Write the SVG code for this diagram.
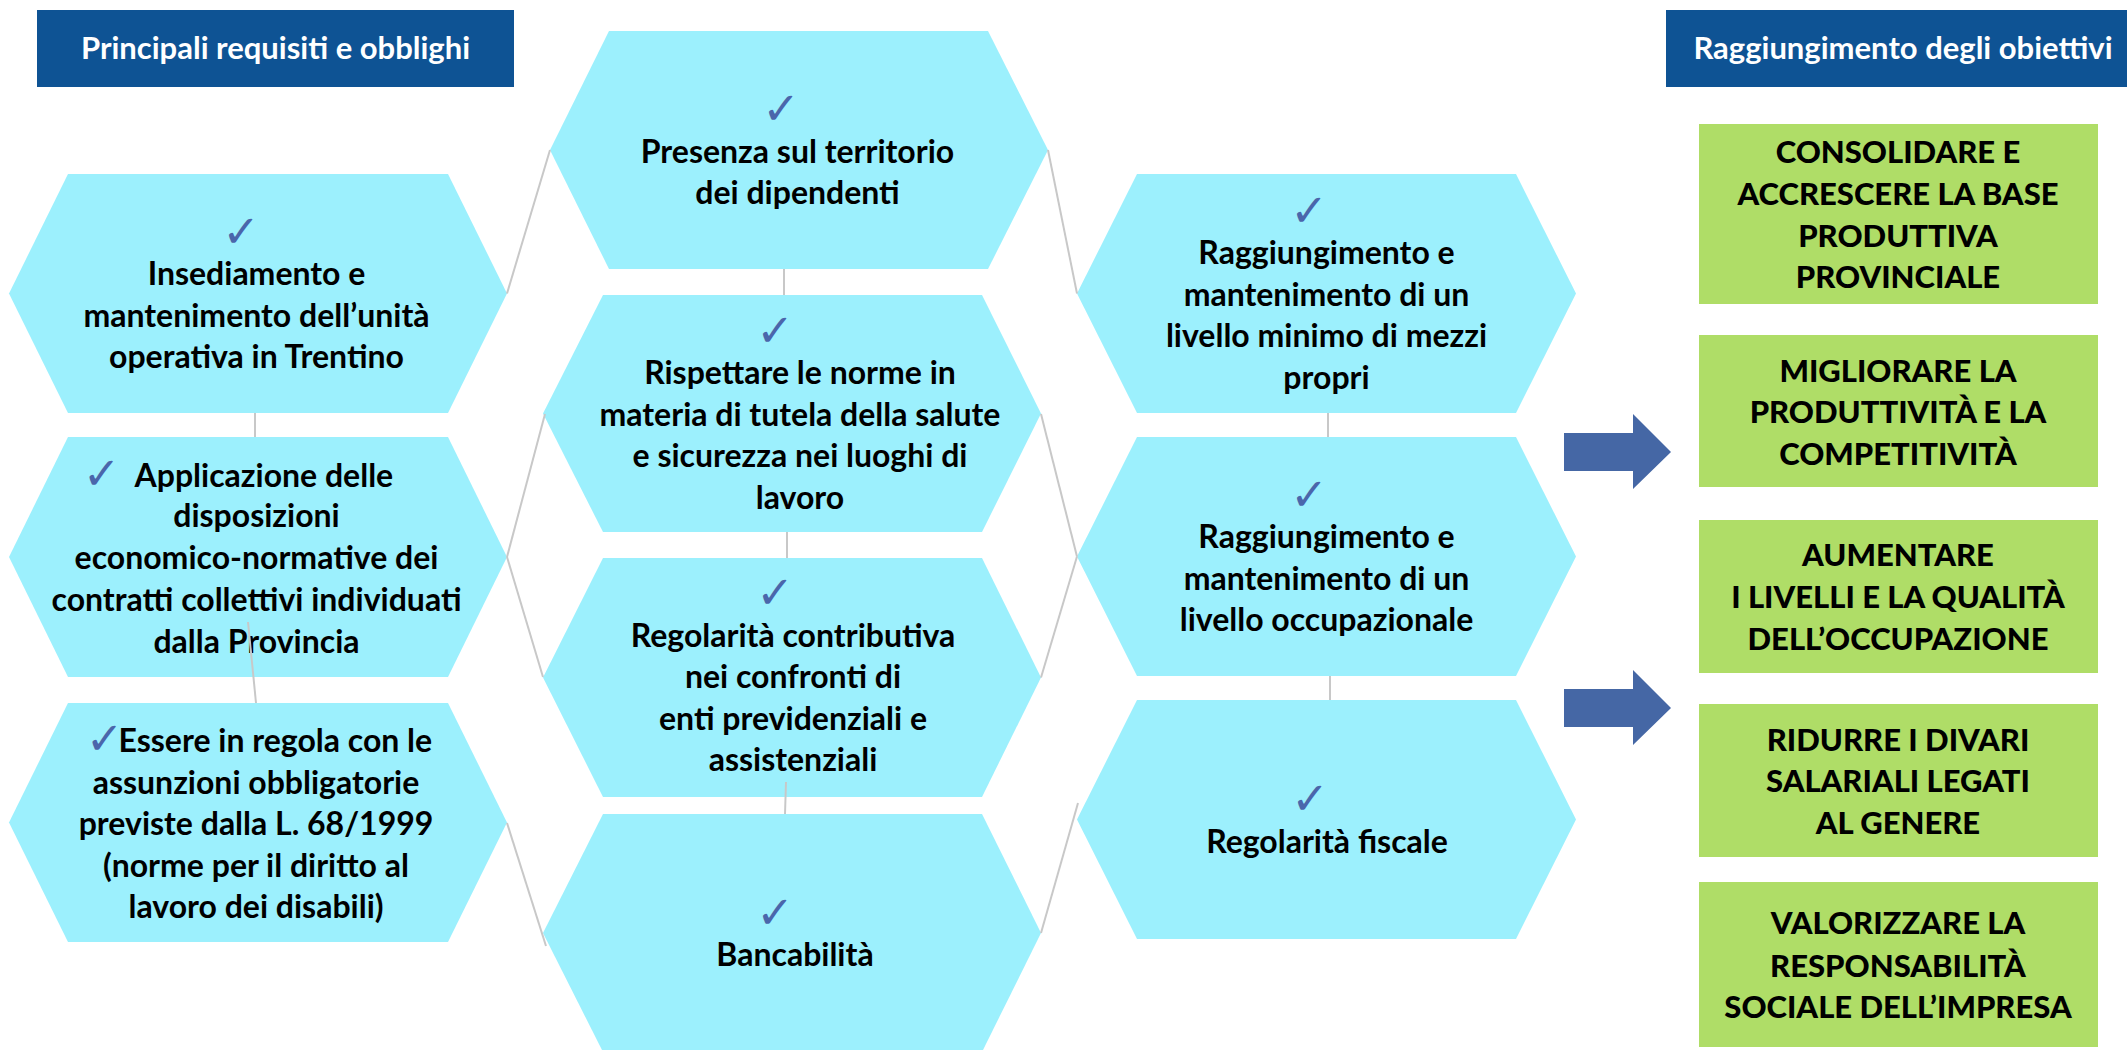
<svg xmlns="http://www.w3.org/2000/svg" width="2127" height="1050" viewBox="0 0 2127 1050">
<style>
  .hdr { fill: #0E5394; }
  .hdrt { font-family: Lato, "Liberation Sans", sans-serif; font-weight: 700; font-size: 31px; fill: #FFFFFF; text-anchor: middle; }
  .hex { fill: #9CF0FD; }
  .t { font-family: Lato, "Liberation Sans", sans-serif; font-weight: 700; font-size: 32px; fill: #000000; text-anchor: middle; }
  .ck { font-family: "DejaVu Sans", sans-serif; font-weight: 700; font-size: 45px; fill: #4A66AB; text-anchor: middle; }
  .cki { font-family: "DejaVu Sans", sans-serif; font-weight: 700; font-size: 45px; fill: #4A66AB; }
  .box { fill: #AFDD67; }
  .g { font-family: Lato, "Liberation Sans", sans-serif; font-weight: 900; font-size: 31px; fill: #000000; text-anchor: middle; }
  .con { stroke: #C8C8C8; stroke-width: 2; fill: none; }
  .arr { fill: #4567A5; }
</style>

<g id="header-left">
  <rect class="hdr" x="37" y="10" width="477" height="77"/>
  <text class="hdrt" x="275.5" y="59">Principali requisiti e obblighi</text>
</g>
<g id="header-right">
  <rect class="hdr" x="1666" y="10" width="461" height="77"/>
  <text class="hdrt" x="1903" y="59">Raggiungimento degli obiettivi</text>
</g>

<g id="node-insediamento">
  <polygon class="hex" points="68,174 448,174 507,293.5 448,413 68,413 9,293.5"/>
  <text class="ck" x="241" y="247">✓</text>
  <text class="t" x="256.5" y="285">Insediamento e</text>
  <text class="t" x="256.5" y="326.5">mantenimento dell’unità</text>
  <text class="t" x="256.5" y="368">operativa in Trentino</text>
</g>
<g id="node-applicazione">
  <polygon class="hex" points="68,437 448,437 507,557 448,677 68,677 9,557"/>
  <text class="t" x="238" y="489"><tspan class="cki">✓</tspan><tspan dx="14" dy="-2">Applicazione delle</tspan></text>
  <text class="t" x="256.5" y="527">disposizioni</text>
  <text class="t" x="256.5" y="569">economico-normative dei</text>
  <text class="t" x="256.5" y="611">contratti collettivi individuati</text>
  <text class="t" x="256.5" y="653">dalla Provincia</text>
</g>
<g id="node-assunzioni">
  <polygon class="hex" points="68,703 448,703 507,822.5 448,942 68,942 9,822.5"/>
  <text class="t" x="259" y="754"><tspan class="cki">✓</tspan><tspan dx="-5" dy="-2">Essere in regola con le</tspan></text>
  <text class="t" x="256" y="794">assunzioni obbligatorie</text>
  <text class="t" x="256" y="835">previste dalla L. 68/1999</text>
  <text class="t" x="256" y="877">(norme per il diritto al</text>
  <text class="t" x="256" y="918">lavoro dei disabili)</text>
</g>

<g id="node-presenza">
  <polygon class="hex" points="609,31 988,31 1048,150 988,269 609,269 550,150"/>
  <text class="ck" x="781" y="124">✓</text>
  <text class="t" x="797.5" y="162.5">Presenza sul territorio</text>
  <text class="t" x="797.5" y="204">dei dipendenti</text>
</g>
<g id="node-sicurezza">
  <polygon class="hex" points="603,295 982,295 1041,413.5 982,532 603,532 543,413.5"/>
  <text class="ck" x="775" y="345.5">✓</text>
  <text class="t" x="800" y="384">Rispettare le norme in</text>
  <text class="t" x="800" y="425.5">materia di tutela della salute</text>
  <text class="t" x="800" y="467">e sicurezza nei luoghi di</text>
  <text class="t" x="800" y="508.5">lavoro</text>
</g>
<g id="node-contributiva">
  <polygon class="hex" points="603,558 982,558 1041,677.5 982,797 603,797 543,677.5"/>
  <text class="ck" x="775" y="607.5">✓</text>
  <text class="t" x="793" y="646.5">Regolarità contributiva</text>
  <text class="t" x="793" y="688">nei confronti di</text>
  <text class="t" x="793" y="729.5">enti previdenziali e</text>
  <text class="t" x="793" y="771">assistenziali</text>
</g>
<g id="node-bancabilita">
  <polygon class="hex" points="603,814 982,814 1041,933 982,1052 603,1052 543,933"/>
  <text class="ck" x="775" y="927.5">✓</text>
  <text class="t" x="795" y="966">Bancabilità</text>
</g>

<g id="node-mezzi-propri">
  <polygon class="hex" points="1137,174 1516,174 1576,293.5 1516,413 1137,413 1077,293.5"/>
  <text class="ck" x="1309" y="225.5">✓</text>
  <text class="t" x="1326.5" y="264">Raggiungimento e</text>
  <text class="t" x="1326.5" y="305.5">mantenimento di un</text>
  <text class="t" x="1326.5" y="347">livello minimo di mezzi</text>
  <text class="t" x="1326.5" y="388.5">propri</text>
</g>
<g id="node-occupazionale">
  <polygon class="hex" points="1137,437 1516,437 1576,556.5 1516,676 1137,676 1077,556.5"/>
  <text class="ck" x="1309" y="509.5">✓</text>
  <text class="t" x="1326.5" y="548">Raggiungimento e</text>
  <text class="t" x="1326.5" y="589.5">mantenimento di un</text>
  <text class="t" x="1326.5" y="631">livello occupazionale</text>
</g>
<g id="node-fiscale">
  <polygon class="hex" points="1137,700 1516,700 1576,819.5 1516,939 1137,939 1077,819.5"/>
  <text class="ck" x="1310" y="814">✓</text>
  <text class="t" x="1327" y="852.5">Regolarità fiscale</text>
</g>

<g id="connectors">
  <line class="con" x1="507" y1="293.5" x2="550" y2="150"/>
  <line class="con" x1="507" y1="557" x2="545" y2="414"/>
  <line class="con" x1="507" y1="557" x2="543" y2="677"/>
  <line class="con" x1="507" y1="823" x2="546" y2="946"/>
  <line class="con" x1="255" y1="413" x2="255" y2="437"/>
  <line class="con" x1="248" y1="622" x2="256" y2="703"/>
  <line class="con" x1="784" y1="269" x2="784" y2="295"/>
  <line class="con" x1="787" y1="532" x2="787" y2="558"/>
  <line class="con" x1="786" y1="782" x2="785" y2="814"/>
  <line class="con" x1="1048" y1="150" x2="1077" y2="293.5"/>
  <line class="con" x1="1041" y1="414" x2="1077" y2="556.5"/>
  <line class="con" x1="1041" y1="677.5" x2="1077" y2="556.5"/>
  <line class="con" x1="1041" y1="933" x2="1078" y2="803"/>
  <line class="con" x1="1328" y1="413" x2="1328" y2="437"/>
  <line class="con" x1="1330" y1="676" x2="1330" y2="700"/>
</g>

<g id="arrow-1">
  <polygon class="arr" points="1564,433 1633,433 1633,414 1671,452 1633,489 1633,471 1564,471"/>
</g>
<g id="arrow-2">
  <polygon class="arr" points="1564,689 1633,689 1633,670 1671,708 1633,745 1633,727 1564,727"/>
</g>

<g id="goal-consolidare">
  <rect class="box" x="1699" y="124" width="399" height="180"/>
  <text class="g" x="1898" y="163">CONSOLIDARE E</text>
  <text class="g" x="1898" y="205">ACCRESCERE LA BASE</text>
  <text class="g" x="1898" y="247">PRODUTTIVA</text>
  <text class="g" x="1898" y="288">PROVINCIALE</text>
</g>
<g id="goal-migliorare">
  <rect class="box" x="1699" y="335" width="399" height="152"/>
  <text class="g" x="1898" y="382">MIGLIORARE LA</text>
  <text class="g" x="1898" y="423">PRODUTTIVITÀ E LA</text>
  <text class="g" x="1898" y="465">COMPETITIVITÀ</text>
</g>
<g id="goal-aumentare">
  <rect class="box" x="1699" y="520" width="399" height="153"/>
  <text class="g" x="1898" y="566">AUMENTARE</text>
  <text class="g" x="1898" y="608">I LIVELLI E LA QUALITÀ</text>
  <text class="g" x="1898" y="650">DELL’OCCUPAZIONE</text>
</g>
<g id="goal-ridurre">
  <rect class="box" x="1699" y="704" width="399" height="153"/>
  <text class="g" x="1898" y="751">RIDURRE I DIVARI</text>
  <text class="g" x="1898" y="792">SALARIALI LEGATI</text>
  <text class="g" x="1898" y="834">AL GENERE</text>
</g>
<g id="goal-valorizzare">
  <rect class="box" x="1699" y="882" width="399" height="165"/>
  <text class="g" x="1898" y="934">VALORIZZARE LA</text>
  <text class="g" x="1898" y="977">RESPONSABILITÀ</text>
  <text class="g" x="1898" y="1018">SOCIALE DELL’IMPRESA</text>
</g>
</svg>
